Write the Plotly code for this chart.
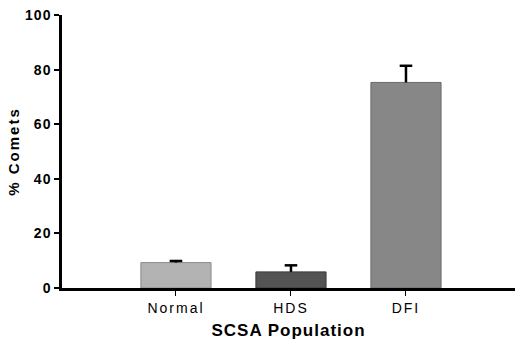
import plotly.graph_objects as go

categories = ["Normal", "HDS", "DFI"]
comets_pct = [9.3, 5.9, 75.3]
sem_pct = [0.6, 2.4, 6.1]
bar_colors = ["#b3b3b3", "#545454", "#878787"]
edge_colors = ["#8a8a8a", "#3a3a3a", "#6a6a6a"]
y_ticks = [0, 20, 40, 60, 80, 100]

font_family = "Liberation Sans, Arial, sans-serif"
x_pos = list(range(len(categories)))

fig = go.Figure()

fig.add_trace(
    go.Bar(
        x=x_pos,
        y=comets_pct,
        width=0.61,
        marker=dict(color=bar_colors, line=dict(color=edge_colors, width=1)),
        hoverinfo="skip",
    )
)

# upper-only error bars: a stem from the bar top and a cap at mean + SEM
stem_x, stem_y = [], []
for xi, v, e in zip(x_pos, comets_pct, sem_pct):
    stem_x += [xi, xi, None]
    stem_y += [v, v + e, None]

fig.add_trace(
    go.Scatter(
        x=stem_x,
        y=stem_y,
        mode="lines",
        line=dict(color="black", width=2.5),
        hoverinfo="skip",
    )
)
fig.add_trace(
    go.Scatter(
        x=x_pos,
        y=[v + e for v, e in zip(comets_pct, sem_pct)],
        mode="markers",
        marker=dict(symbol="line-ew", size=9, line=dict(color="black", width=2.5)),
        hoverinfo="skip",
    )
)

fig.update_layout(
    width=516,
    height=341,
    margin=dict(l=62, r=1, t=15, b=53),
    paper_bgcolor="white",
    plot_bgcolor="white",
    showlegend=False,
    font=dict(family=font_family, color="black"),
    xaxis=dict(
        range=[-0.991, 2.948],
        tickmode="array",
        tickvals=x_pos,
        ticktext=categories,
        ticks="outside",
        ticklen=5,
        tickwidth=1,
        tickcolor="black",
        tickfont=dict(size=14, family=font_family),
        showline=True,
        linecolor="black",
        linewidth=2.5,
        showgrid=False,
        zeroline=False,
        title=dict(
            text="SCSA Population",
            font=dict(size=17, family=font_family, weight="bold"),
            standoff=10,
        ),
    ),
    yaxis=dict(
        range=[0, 100],
        tickmode="array",
        tickvals=y_ticks,
        ticks="outside",
        ticklen=5,
        tickwidth=1.5,
        tickcolor="black",
        tickfont=dict(size=14, family=font_family, weight="bold"),
        showline=True,
        linecolor="black",
        linewidth=2.5,
        showgrid=False,
        zeroline=False,
        title=dict(
            text="% Comets",
            font=dict(size=15, family=font_family, weight="bold"),
            standoff=5,
        ),
    ),
)

# widen the letter spacing of axis labels and titles
spacing_js = """
var gd = document.getElementById('{plot_id}');
function spaceText() {
    var rules = [['.xtick text', '2px'], ['.ytick text', '1px'],
                 ['.g-xtitle text', '1px'], ['.g-ytitle text', '2px']];
    rules.forEach(function (r) {
        gd.querySelectorAll(r[0]).forEach(function (t) {
            t.style.letterSpacing = r[1];
        });
    });
}
spaceText();
gd.on('plotly_afterplot', spaceText);
setTimeout(spaceText, 0);
"""

fig.write_html("out.html", post_script=spacing_js)
